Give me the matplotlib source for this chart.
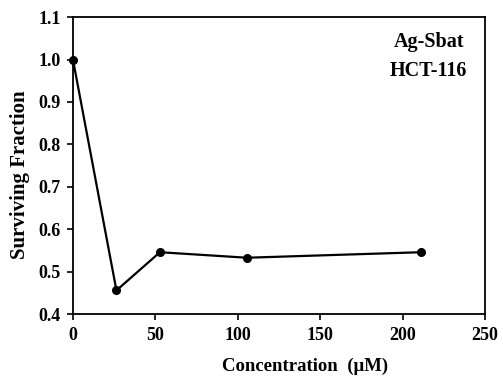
import matplotlib
matplotlib.use("Agg")
import matplotlib.pyplot as plt

# Surviving fraction of HCT-116 cells vs Ag-Sbat concentration
concentration = [0, 26.4, 52.8, 105.6, 211.2]
surviving = [1.0, 0.456, 0.546, 0.533, 0.546]

plt.rcParams["font.family"] = ["Liberation Serif", "DejaVu Serif"]
plt.rcParams["font.weight"] = "bold"

fig = plt.figure(figsize=(5.03, 3.79), dpi=100)
ax = fig.add_axes([0.145, 0.171, 0.819, 0.784])

ax.plot(concentration, surviving, color="black", linewidth=1.6,
        marker="o", markersize=5.5, clip_on=False, zorder=3)

ax.set_xlim(0, 250)
ax.set_ylim(0.4, 1.1)
ax.set_xticks([0, 50, 100, 150, 200, 250])
ax.set_yticks([0.4, 0.5, 0.6, 0.7, 0.8, 0.9, 1.0, 1.1])
ax.set_yticklabels(["0.4", "0.5", "0.6", "0.7", "0.8", "0.9", "1.0", "1.1"])
ax.tick_params(direction="out", length=4, width=1.2, labelsize=13, pad=5)
for s in ax.spines.values():
    s.set_linewidth(1.3)

ax.set_xlabel("Concentration  (\u03bcM)", fontsize=13.5, fontweight="bold")
ax.xaxis.set_label_coords(0.563, -0.145)
ax.set_ylabel("Surviving Fraction", fontsize=15, fontweight="bold")
ax.yaxis.set_label_coords(-0.104, 0.47)

ax.text(0.864, 0.915, "Ag-Sbat", transform=ax.transAxes, ha="center", va="center",
        fontsize=14.5, fontweight="bold")
ax.text(0.864, 0.818, "HCT-116", transform=ax.transAxes, ha="center", va="center",
        fontsize=14.5, fontweight="bold")

fig.savefig("out.png", dpi=100)
